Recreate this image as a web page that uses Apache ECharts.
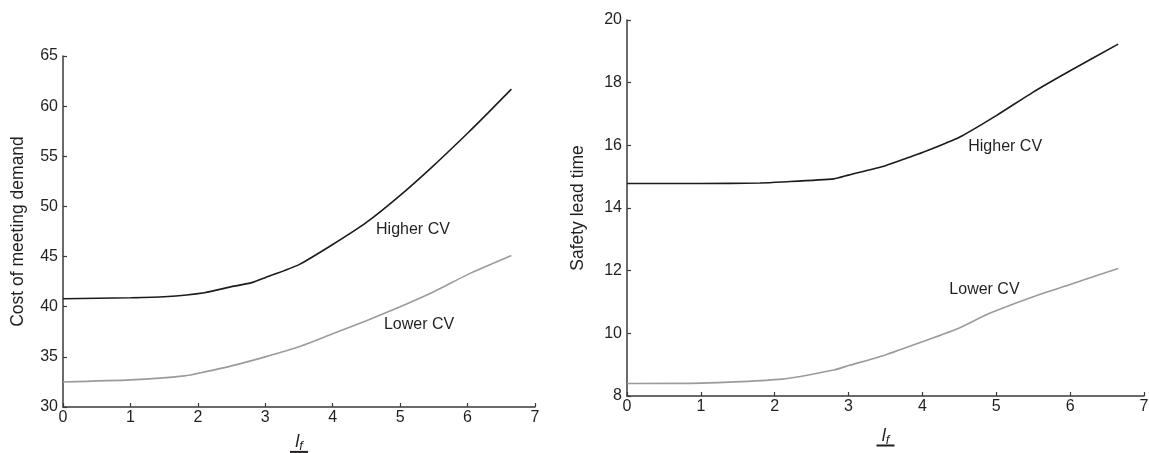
<!DOCTYPE html>
<html>
<head>
<meta charset="utf-8">
<script src="https://cdn.jsdelivr.net/npm/echarts@6/dist/echarts.min.js"></script>
<style>
  html, body { margin: 0; padding: 0; background: #fff; }
  #chart { width: 1149px; height: 453px; }
</style>
</head>
<body>
<div id="chart"></div>
<script>
// Cost of meeting demand vs l_f
const costHigherCV = [[0, 40.8], [1, 40.9], [1.5, 41.0], [2.1, 41.4], [2.5, 42.0], [2.8, 42.4], [3.0, 42.9], [3.5, 44.2], [4.0, 46.2], [4.5, 48.4], [5.0, 51.1], [5.5, 54.1], [6.0, 57.3], [6.3, 59.3], [6.65, 61.7]];
const costLowerCV = [[0, 32.5], [1.0, 32.7], [1.8, 33.1], [2.1, 33.5], [2.5, 34.1], [3.0, 35.0], [3.5, 36.0], [4.0, 37.3], [4.5, 38.6], [5.0, 40.0], [5.5, 41.5], [6.0, 43.2], [6.65, 45.1]];

// Safety lead time vs l_f
const leadHigherCV = [[0, 14.78], [1.0, 14.78], [1.8, 14.8], [2.1, 14.83], [2.8, 14.93], [3.0, 15.05], [3.5, 15.35], [3.8, 15.6], [4.0, 15.77], [4.5, 16.26], [5.0, 16.95], [5.5, 17.7], [6.0, 18.38], [6.65, 19.23]];
const leadLowerCV = [[0, 8.4], [1.0, 8.41], [2.1, 8.54], [2.8, 8.83], [3.0, 8.97], [3.5, 9.31], [4.0, 9.73], [4.5, 10.17], [4.9, 10.63], [5.5, 11.17], [6.0, 11.56], [6.65, 12.07]];

const seriesNames = ['Higher CV', 'Lower CV'];
const yTitles = ['Cost of meeting demand', 'Safety lead time'];

const INK = '#231f20';
const FONT = '"Liberation Sans", Arial, Helvetica, sans-serif';

// x-axis title: italic l with subscript f, underlined
function xAxisDef(gridIndex, gap) {
  return {
    type: 'value', gridIndex: gridIndex, min: 0, max: 7, interval: 1,
    name: '{i|l}{s|f}\n{u| }',
    nameLocation: 'middle', nameGap: gap,
    nameTextStyle: {
      rich: {
        i: { fontFamily: FONT, fontStyle: 'italic', fontSize: 18, lineHeight: 17, color: INK },
        s: { fontFamily: FONT, fontStyle: 'italic', fontSize: 13, lineHeight: 17, color: INK, padding: [9, 0, 0, 0] },
        u: { fontSize: 1, lineHeight: 3, width: 10, height: 2, backgroundColor: INK, padding: [0, 8, 0, 0] }
      }
    },
    axisLine: { show: true, onZero: false, lineStyle: { color: '#3a3a3a', width: 1.5 } },
    axisTick: { show: true, inside: true, length: 4, lineStyle: { color: '#3a3a3a', width: 1.2 } },
    axisLabel: { color: INK, fontFamily: FONT, fontSize: 16, margin: 3 },
    splitLine: { show: false }
  };
}

function yAxisDef(gridIndex, min, max, interval, title, gap) {
  return {
    type: 'value', gridIndex: gridIndex, min: min, max: max, interval: interval,
    name: title, nameLocation: 'middle', nameGap: gap, nameRotate: 90,
    nameTextStyle: { color: INK, fontFamily: FONT, fontSize: 17.5 },
    axisLine: { show: true, onZero: false, lineStyle: { color: '#3a3a3a', width: 1.5 } },
    axisTick: { show: true, inside: true, length: 4, lineStyle: { color: '#3a3a3a', width: 1.2 } },
    axisLabel: { color: INK, fontFamily: FONT, fontSize: 16, margin: 5 },
    splitLine: { show: false }
  };
}

function lineSeries(name, data, xi, color, labelAt) {
  return {
    name: name, type: 'line', xAxisIndex: xi, yAxisIndex: xi,
    data: data, showSymbol: false, smooth: 0.2,
    lineStyle: { color: color, width: 1.6 },
    silent: true,
    markPoint: {
      symbol: 'circle', symbolSize: 0,
      label: { show: true, position: 'inside', formatter: name, color: INK, fontFamily: FONT, fontSize: 16 },
      data: [{ coord: labelAt }]
    }
  };
}

const chart = echarts.init(document.getElementById('chart'), null, { renderer: 'canvas' });
chart.setOption({
  backgroundColor: '#ffffff',
  animation: false,
  grid: [
    { left: 63, top: 56, width: 472, height: 351, outerBoundsMode: 'none', containLabel: false },
    { left: 627, top: 20, width: 517, height: 376, outerBoundsMode: 'none', containLabel: false }
  ],
  xAxis: [xAxisDef(0, 21), xAxisDef(1, 31)],
  yAxis: [
    yAxisDef(0, 30, 65, 5, yTitles[0], 36),
    yAxisDef(1, 8, 20, 2, yTitles[1], 40)
  ],
  series: [
    lineSeries(seriesNames[0], costHigherCV, 0, '#1c1c1c', [5.19, 47.65]),
    lineSeries(seriesNames[1], costLowerCV, 0, '#9b9b9b', [5.28, 38.2]),
    lineSeries(seriesNames[0], leadHigherCV, 1, '#1c1c1c', [5.12, 15.95]),
    lineSeries(seriesNames[1], leadLowerCV, 1, '#9b9b9b', [4.84, 11.38])
  ]
});
</script>
</body>
</html>
